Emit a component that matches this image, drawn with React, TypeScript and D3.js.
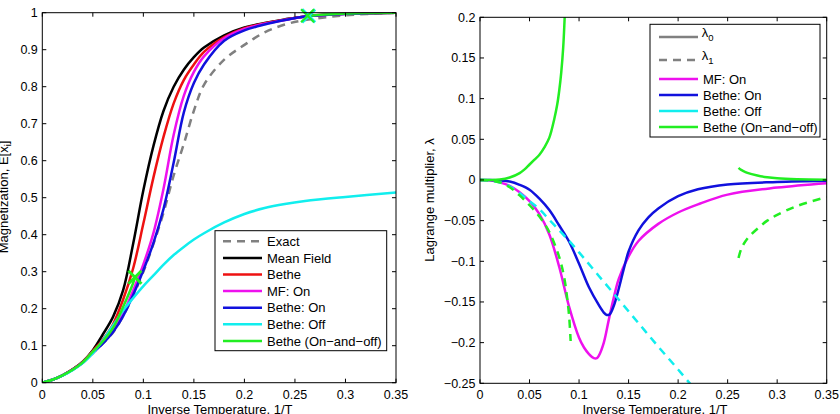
import React from "react";
import * as d3 from "d3";

const FONT = '"Liberation Sans", Arial, Helvetica, sans-serif';

// ---- left panel: magnetization vs inverse temperature ----
const betaGrid = [0, 0.01, 0.02, 0.03, 0.04, 0.05, 0.06, 0.07, 0.08, 0.09, 0.1, 0.11, 0.12, 0.13, 0.14, 0.15, 0.16, 0.18, 0.2, 0.22, 0.24, 0.26, 0.3, 0.35];
const magExact = [0, 0.008, 0.02, 0.035, 0.054, 0.08, 0.106, 0.136, 0.18, 0.236, 0.3, 0.375, 0.46, 0.56, 0.645, 0.735, 0.805, 0.873, 0.913, 0.947, 0.968, 0.98, 0.993, 1];
const magMeanField = [0, 0.008, 0.02, 0.036, 0.057, 0.088, 0.131, 0.178, 0.25, 0.377, 0.52, 0.64, 0.735, 0.8, 0.846, 0.88, 0.906, 0.939, 0.96, 0.972, 0.982, 0.99, 0.997, 1];
const magBethe = [0, 0.008, 0.02, 0.036, 0.056, 0.086, 0.117, 0.158, 0.225, 0.31, 0.43, 0.555, 0.665, 0.755, 0.818, 0.86, 0.894, 0.934, 0.958, 0.971, 0.981, 0.99, 0.997, 1];
const magMfOn = [0, 0.008, 0.02, 0.035, 0.055, 0.083, 0.11, 0.142, 0.187, 0.25, 0.32, 0.405, 0.525, 0.67, 0.775, 0.84, 0.882, 0.931, 0.956, 0.97, 0.98, 0.99, 0.997, 1];
const magBetheOn = [0, 0.008, 0.02, 0.035, 0.054, 0.08, 0.106, 0.137, 0.18, 0.238, 0.304, 0.378, 0.47, 0.595, 0.73, 0.81, 0.86, 0.924, 0.952, 0.968, 0.98, 0.99, 0.997, 1];
const magBetheOff = [0, 0.008, 0.019, 0.034, 0.053, 0.08, 0.115, 0.155, 0.195, 0.229, 0.261, 0.29, 0.319, 0.345, 0.367, 0.387, 0.404, 0.433, 0.456, 0.472, 0.483, 0.491, 0.502, 0.514];
const onOffLowBeta = [0, 0.01, 0.02, 0.03, 0.04, 0.05, 0.06, 0.07, 0.08, 0.09, 0.0917];
const onOffLowMag = [0, 0.008, 0.02, 0.035, 0.055, 0.084, 0.112, 0.148, 0.205, 0.27, 0.285];
const onOffHighBeta = [0.262, 0.28, 0.3, 0.35];
const onOffHighMag = [0.991, 0.995, 0.998, 1];
// switch points of the on-and-off schedule
const switchBeta = [0.0917, 0.2625];
const switchMag = [0.285, 0.9915];

const leftXTicks = [0, 0.05, 0.1, 0.15, 0.2, 0.25, 0.3, 0.35];
const leftXLabels = ["0", "0.05", "0.1", "0.15", "0.2", "0.25", "0.3", "0.35"];
const leftYTicks = [0, 0.1, 0.2, 0.3, 0.4, 0.5, 0.6, 0.7, 0.8, 0.9, 1];
const leftYLabels = ["0", "0.1", "0.2", "0.3", "0.4", "0.5", "0.6", "0.7", "0.8", "0.9", "1"];

// ---- right panel: Lagrange multipliers ----
const mfOnBeta = [0, 0.01, 0.02, 0.03, 0.04, 0.05, 0.06, 0.07, 0.08, 0.09, 0.1, 0.105, 0.11, 0.115, 0.118, 0.12, 0.125, 0.13, 0.135, 0.14, 0.15, 0.16, 0.18, 0.2, 0.22, 0.25, 0.3, 0.35];
const mfOnL0 = [0, -0.0005, -0.003, -0.0072, -0.015, -0.026, -0.042, -0.067, -0.107, -0.156, -0.194, -0.206, -0.214, -0.219, -0.219, -0.216, -0.2, -0.172, -0.145, -0.122, -0.094, -0.075, -0.054, -0.04, -0.03, -0.018, -0.0094, -0.004];
const betheOnBeta = [0, 0.01, 0.02, 0.03, 0.04, 0.05, 0.06, 0.07, 0.08, 0.09, 0.1, 0.11, 0.12, 0.125, 0.128, 0.131, 0.135, 0.14, 0.145, 0.15, 0.16, 0.17, 0.18, 0.2, 0.22, 0.25, 0.3, 0.35];
const betheOnL0 = [0, 0, -0.0005, -0.002, -0.006, -0.012, -0.023, -0.037, -0.056, -0.076, -0.103, -0.132, -0.154, -0.163, -0.166, -0.165, -0.155, -0.134, -0.11, -0.088, -0.062, -0.046, -0.035, -0.02, -0.0115, -0.0055, -0.0025, -0.001];
const betheOffBeta = [0, 0.01, 0.02, 0.03, 0.04, 0.05, 0.06, 0.07, 0.08, 0.09, 0.1, 0.12, 0.14, 0.16, 0.18, 0.2, 0.22];
const betheOffL1 = [0, -0.0005, -0.003, -0.008, -0.016, -0.026, -0.036, -0.049, -0.062, -0.075, -0.089, -0.118, -0.147, -0.176, -0.205, -0.233, -0.262];
const onOffL0LowBeta = [0, 0.01, 0.02, 0.03, 0.04, 0.045, 0.05, 0.055, 0.06, 0.065, 0.07, 0.075, 0.078, 0.08, 0.082, 0.084, 0.0855, 0.087];
const onOffL0Low = [0, 0, 0.0005, 0.003, 0.0085, 0.013, 0.019, 0.025, 0.031, 0.04, 0.052, 0.075, 0.093, 0.11, 0.132, 0.163, 0.2, 0.24];
const onOffL0HighBeta = [0.261, 0.263, 0.265, 0.27, 0.28, 0.29, 0.3, 0.32, 0.35];
const onOffL0High = [0.0148, 0.0128, 0.0115, 0.0088, 0.0055, 0.0033, 0.002, 0.0009, 0.0004];
const onOffL1LowBeta = [0, 0.01, 0.02, 0.03, 0.04, 0.05, 0.06, 0.07, 0.08, 0.085, 0.088, 0.09, 0.0915];
const onOffL1Low = [0, -0.0005, -0.003, -0.009, -0.019, -0.031, -0.045, -0.064, -0.095, -0.12, -0.145, -0.168, -0.198];
const onOffL1HighBeta = [0.261, 0.264, 0.27, 0.28, 0.29, 0.3, 0.32, 0.35];
const onOffL1High = [-0.096, -0.084, -0.072, -0.06, -0.05, -0.043, -0.032, -0.021];

const rightXTicks = leftXTicks;
const rightXLabels = leftXLabels;
const rightYTicks = [0.2, 0.15, 0.1, 0.05, 0, -0.05, -0.1, -0.15, -0.2, -0.25];
const rightYLabels = ["0.2", "0.15", "0.1", "0.05", "0", "\u22120.05", "\u22120.1", "\u22120.15", "\u22120.2", "\u22120.25"];

const C = {
  exact: "#808080",
  mf: "#000000",
  bethe: "#ee1111",
  mfOn: "#ee11ee",
  betheOn: "#1111dd",
  betheOff: "#11eeee",
  onOff: "#22ee22",
};

const zip = (xs: number[], ys: number[]) => xs.map((x, i) => [x, ys[i]] as [number, number]);

const TICK = 4;
const LW = 2.5;
const DASH = "8,6";

const Frame = ({ x, y, xTicks, xLabels, yTicks, yLabels }) => {
  const [x0, x1] = x.range();
  const [y0, y1] = y.range();
  return (
    <g>
      <rect x={x0} y={y1} width={x1 - x0} height={y0 - y1} fill="none" stroke="#000" strokeWidth={1} />
      {xTicks.map((t, i) => (
        <g key={"x" + i}>
          <line x1={x(t)} x2={x(t)} y1={y0} y2={y0 - TICK} stroke="#000" />
          <line x1={x(t)} x2={x(t)} y1={y1} y2={y1 + TICK} stroke="#000" />
          <text x={x(t)} y={399} textAnchor="middle" fontSize={12.5} fontFamily={FONT}>{xLabels[i]}</text>
        </g>
      ))}
      {yTicks.map((t, i) => (
        <g key={"y" + i}>
          <line x1={x0} x2={x0 + TICK} y1={y(t)} y2={y(t)} stroke="#000" />
          <line x1={x1} x2={x1 - TICK} y1={y(t)} y2={y(t)} stroke="#000" />
          <text x={x0 - 4.5} y={y(t)} dy="0.36em" textAnchor="end" fontSize={12.5} fontFamily={FONT}>{yLabels[i]}</text>
        </g>
      ))}
    </g>
  );
};

const Curve = ({ pts, x, y, color, dashed = false }) => {
  const gen = d3.line<[number, number]>()
    .x((d) => x(d[0]))
    .y((d) => y(d[1]))
    .curve(d3.curveCatmullRom.alpha(0.5));
  return (
    <path d={gen(pts) || ""} fill="none" stroke={color} strokeWidth={LW}
      strokeDasharray={dashed ? DASH : undefined} strokeLinejoin="round" />
  );
};

const Cross = ({ cx, cy, color, width = 3 }) => (
  <path d={`M${cx - 6.5},${cy - 6.5}L${cx + 6.5},${cy + 6.5}M${cx - 6.5},${cy + 6.5}L${cx + 6.5},${cy - 6.5}`}
    stroke={color} strokeWidth={width} fill="none" />
);

const LegendRow = ({ x, y, color, dashed = false, children }) => (
  <g>
    <line x1={x} x2={x + 39} y1={y} y2={y} stroke={color} strokeWidth={LW} strokeDasharray={dashed ? DASH : undefined} />
    <text x={x + 44} y={y} dy="0.36em" fontSize={13} fontFamily={FONT}>{children}</text>
  </g>
);

const leftLegend = [
  { label: "Exact", color: C.exact, dashed: true },
  { label: "Mean Field", color: C.mf },
  { label: "Bethe", color: C.bethe },
  { label: "MF: On", color: C.mfOn },
  { label: "Bethe: On", color: C.betheOn },
  { label: "Bethe: Off", color: C.betheOff },
  { label: "Bethe (On\u2212and\u2212off)", color: C.onOff },
];

const rightLegend = [
  { label: "MF: On", color: C.mfOn },
  { label: "Bethe: On", color: C.betheOn },
  { label: "Bethe: Off", color: C.betheOff },
  { label: "Bethe (On\u2212and\u2212off)", color: C.onOff },
];

export default function App() {
  const xL = d3.scaleLinear().domain([0, 0.35]).range([42.3, 396]);
  const yL = d3.scaleLinear().domain([0, 1]).range([382.7, 12.7]);
  const xR = d3.scaleLinear().domain([0, 0.35]).range([480, 826.7]);
  const yR = d3.scaleLinear().domain([-0.25, 0.2]).range([383.3, 17.3]);

  const leftSeries = [
    { ys: magExact, color: C.exact, dashed: true },
    { ys: magMeanField, color: C.mf },
    { ys: magBethe, color: C.bethe },
    { ys: magMfOn, color: C.mfOn },
    { ys: magBetheOn, color: C.betheOn },
    { ys: magBetheOff, color: C.betheOff },
  ];

  return (
    <svg width={840} height={414} style={{ position: "absolute", left: 0, top: 0, background: "#fff" }}>
      <defs>
        <clipPath id="clipL"><rect x={42.3} y={12.7} width={396 - 42.3} height={370} /></clipPath>
        <clipPath id="clipR"><rect x={480} y={17.3} width={826.7 - 480} height={366} /></clipPath>
      </defs>

      {/* left: magnetization */}
      <g clipPath="url(#clipL)">
        {leftSeries.map((s, i) => (
          <Curve key={i} pts={zip(betaGrid, s.ys)} x={xL} y={yL} color={s.color} dashed={s.dashed} />
        ))}
        <Curve pts={zip(onOffLowBeta, onOffLowMag)} x={xL} y={yL} color={C.onOff} />
        <Curve pts={zip(onOffHighBeta, onOffHighMag)} x={xL} y={yL} color={C.onOff} />
      </g>
      <Cross cx={xL(switchBeta[1]) + 1} cy={yL(switchMag[1])} color={C.betheOff} />
      <Cross cx={xL(switchBeta[1])} cy={yL(switchMag[1])} color={C.onOff} width={2.2} />
      <Cross cx={xL(switchBeta[0])} cy={yL(switchMag[0])} color={C.onOff} />
      <Frame x={xL} y={yL} xTicks={leftXTicks} xLabels={leftXLabels} yTicks={leftYTicks} yLabels={leftYLabels} />

      <g>
        <rect x={215} y={230.7} width={171.7} height={120} fill="#fff" stroke="#000" strokeWidth={1} />
        {leftLegend.map((e, i) => (
          <LegendRow key={i} x={223} y={241.3 + i * 16.6} color={e.color} dashed={e.dashed}>{e.label}</LegendRow>
        ))}
      </g>

      <text transform="translate(8,197) rotate(-90)" textAnchor="middle" fontSize={13} fontFamily={FONT}>
        Magnetization, E[x<tspan fontSize={9} dy={3}>i</tspan><tspan dy={-3}>]</tspan>
      </text>
      <text x={220} y={414.3} textAnchor="middle" fontSize={13} fontFamily={FONT}>Inverse Temperature, 1/T</text>

      {/* right: Lagrange multipliers */}
      <g clipPath="url(#clipR)">
        <Curve pts={zip(mfOnBeta, mfOnL0)} x={xR} y={yR} color={C.mfOn} />
        <Curve pts={zip(betheOnBeta, betheOnL0)} x={xR} y={yR} color={C.betheOn} />
        <Curve pts={zip(betheOffBeta, betheOffL1)} x={xR} y={yR} color={C.betheOff} dashed />
        <Curve pts={zip(onOffL0LowBeta, onOffL0Low)} x={xR} y={yR} color={C.onOff} />
        <Curve pts={zip(onOffL0HighBeta, onOffL0High)} x={xR} y={yR} color={C.onOff} />
        <Curve pts={zip(onOffL1LowBeta, onOffL1Low)} x={xR} y={yR} color={C.onOff} dashed />
        <Curve pts={zip(onOffL1HighBeta, onOffL1High)} x={xR} y={yR} color={C.onOff} dashed />
      </g>
      <Frame x={xR} y={yR} xTicks={rightXTicks} xLabels={rightXLabels} yTicks={rightYTicks} yLabels={rightYLabels} />

      <g>
        <rect x={650} y={24.3} width={170} height={112.7} fill="#fff" stroke="#000" strokeWidth={1} />
        <line x1={659} x2={698} y1={37} y2={37} stroke={C.exact} strokeWidth={LW} />
        <text x={701.7} y={36.5} fontSize={13} fontFamily={FONT}>λ<tspan fontSize={9.5} dy={4.5}>0</tspan></text>
        <line x1={659} x2={698} y1={60} y2={60} stroke={C.exact} strokeWidth={LW} strokeDasharray={DASH} />
        <text x={701.7} y={59.5} fontSize={13} fontFamily={FONT}>λ<tspan fontSize={9.5} dy={4.5}>1</tspan></text>
        {rightLegend.map((e, i) => (
          <LegendRow key={i} x={659} y={79 + i * 16} color={e.color}>{e.label}</LegendRow>
        ))}
      </g>

      <text transform="translate(434,200) rotate(-90)" textAnchor="middle" fontSize={13} fontFamily={FONT}>Lagrange multiplier, λ</text>
      <text x={655} y={414.3} textAnchor="middle" fontSize={13} fontFamily={FONT}>Inverse Temperature, 1/T</text>
    </svg>
  );
}
